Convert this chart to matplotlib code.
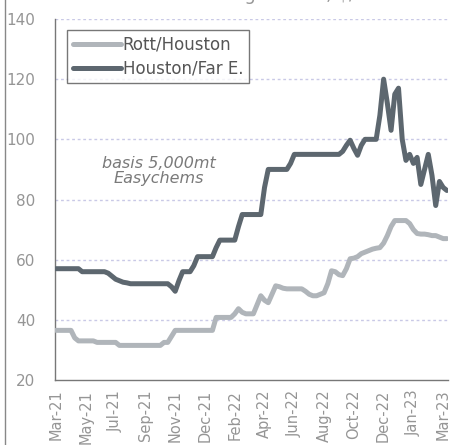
import matplotlib
matplotlib.use("Agg")
import matplotlib.pyplot as plt
from matplotlib.lines import Line2D

tick_labels = ["Mar-21", "May-21", "Jul-21", "Sep-21", "Nov-21", "Dec-21", "Feb-22",
               "Apr-22", "Jun-22", "Aug-22", "Oct-22", "Dec-22", "Jan-23", "Mar-23"]

houston_far_east = (
    [57] * 7 + [56] * 7 +
    [55.5, 54.5, 53.5, 53, 52.5, 52.3, 52] +
    [52] * 10 +
    [51, 49.5, 53, 56, 56, 56] +
    [58] + [61] * 5 +
    [64] + [66.5] * 5 +
    [71] + [75] * 6 +
    [84] + [90] * 6 +
    [92] + [95] * 13 +
    [96, 98, 99.7, 97, 94.7, 98, 100, 100, 100, 100] +
    [108, 120, 112, 103, 115, 117, 100, 93, 95, 92, 94, 85, 90, 95, 88, 78, 86, 84, 83]
)

rott_houston = (
    [36.5] * 5 + [34] + [33] * 5 + [32.5] * 6 + [31.5] * 12 + [32.5] * 2 + [34.5] +
    [36.5] * 11 + [40.8] * 5 +
    [42, 43.7, 42.5, 42, 42, 42, 45, 48, 46.5, 45.7, 48.5, 51.3, 51, 50.5,
     50.3, 50.3, 50.3, 50.3, 50.3, 49.5, 48.5, 48, 48, 48.5, 49, 52, 56.3, 56, 55, 54.7,
     57, 60.3, 60.5, 61, 62, 62.5, 63, 63.5, 63.8, 64, 65.5, 68, 71, 73, 73, 73, 73,
     72, 70, 68.7, 68.5, 68.5, 68.3, 68, 68, 67.5, 67, 67]
)

series_names = ["Rott/Houston", "Houston/Far E."]
note_text = "basis 5,000mt\nEasychems"

x1 = list(range(len(rott_houston)))
x2 = list(range(len(houston_far_east)))

fig = plt.figure(figsize=(4.56, 4.45), dpi=100)
ax = fig.add_axes([55 / 456, 65 / 445, 393 / 456, 361 / 445])

light = "#b0b5ba"
dark = "#5d676f"
ax.plot(x1, rott_houston, color=light, lw=3.6, solid_capstyle="round",
        solid_joinstyle="round", label=series_names[0], zorder=3)
ax.plot(x2, houston_far_east, color=dark, lw=3.6, solid_capstyle="round",
        solid_joinstyle="round", label=series_names[1], zorder=4)

ax.set_ylim(20, 140)
ax.set_xlim(-0.3, 105.3)
ax.set_yticks(range(20, 141, 20))
ax.set_xticks([i * 8 for i in range(len(tick_labels))])
ax.set_xticklabels(tick_labels, rotation=90)

for y in range(40, 141, 20):
    ax.axhline(y, color="#c9c9e6", lw=1.0, ls=(0, (2, 2)), zorder=1)

for s in ["top", "right"]:
    ax.spines[s].set_visible(False)
for s in ["left", "bottom"]:
    ax.spines[s].set_color("#777777")
    ax.spines[s].set_linewidth(1.0)

ax.tick_params(axis="both", length=0, colors="#959595")
ax.tick_params(axis="y", pad=14, labelsize=11)
ax.tick_params(axis="x", pad=7, labelsize=10.5)

leg = ax.legend(loc="upper left", bbox_to_anchor=(0.03, 0.97), fontsize=12,
                handlelength=2.9, handletextpad=0.1, frameon=True, fancybox=False,
                borderpad=0.35, labelspacing=0.35, borderaxespad=0)
leg.get_frame().set_edgecolor("#555555")
leg.get_frame().set_linewidth(1.0)
for t in leg.get_texts():
    t.set_color("#555555")

ax.text(27.5, 89.5, note_text, ha="center", va="center", style="italic",
        fontsize=11.5, color="#7a7a7a", linespacing=1.0)

fig.text(0.52, 1.0, "Caustic soda freight rates, $/mt", ha="center",
         va="baseline", fontsize=13, color="#999999")

fig.add_artist(Line2D([5 / 456, 5 / 456], [0, 1], transform=fig.transFigure,
                      color="#888888", lw=1.0))

fig.savefig("out.png", dpi=100)
